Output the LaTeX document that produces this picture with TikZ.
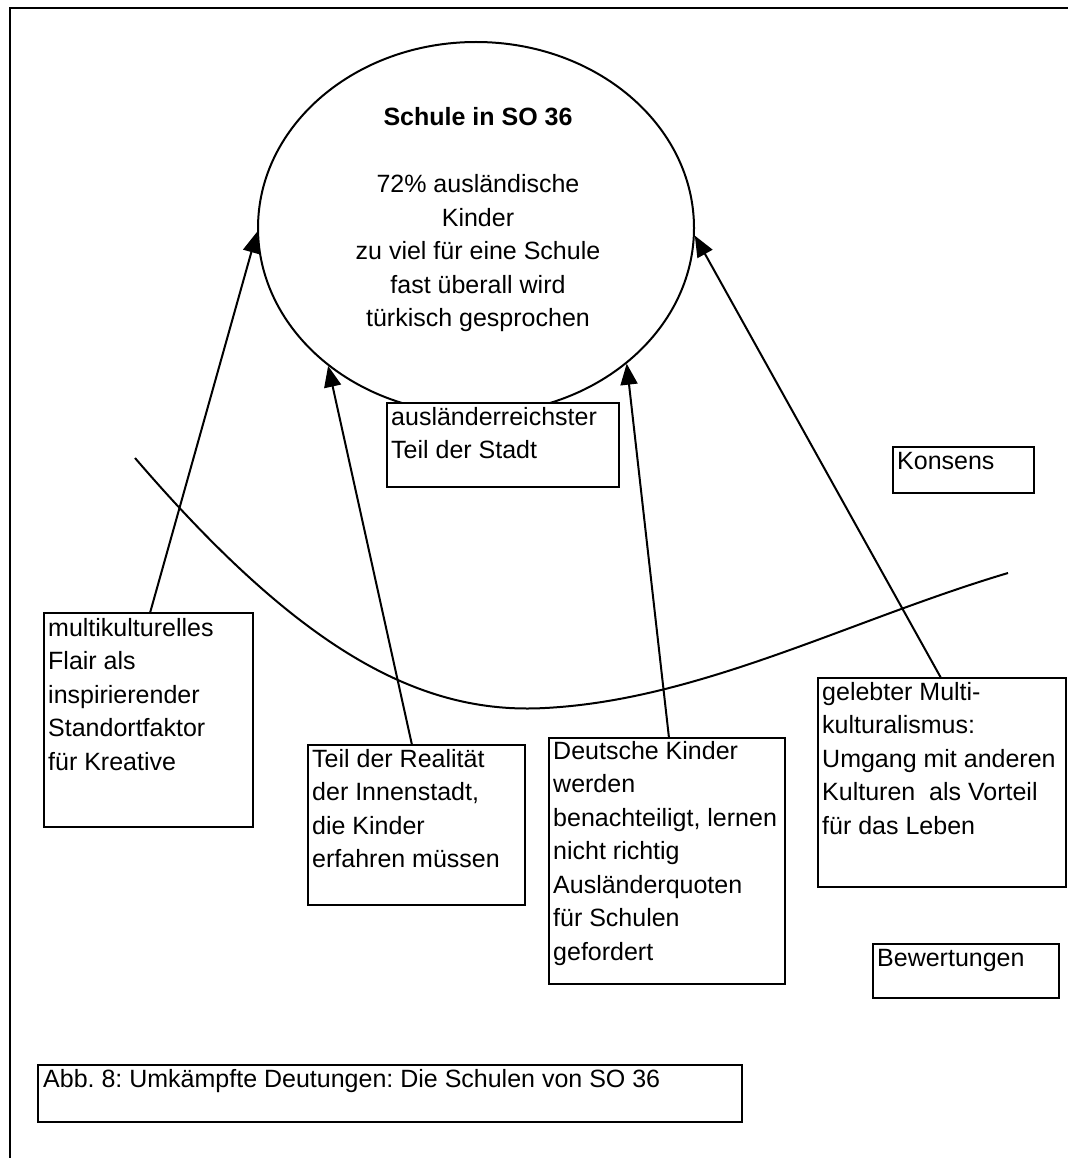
\documentclass[tikz,border=0pt]{standalone}
\usepackage{fontspec}
\setmainfont{Liberation Sans}
\usetikzlibrary{arrows.meta,shapes.geometric}

% left-aligned stack of lines whose baseline is the first line
\newcommand{\boxlines}[1]{\begin{tabular}[t]{@{}l@{}}#1\end{tabular}}

\begin{document}
\frenchspacing
\begin{tikzpicture}[x=1pt,y=-1pt,
  every node/.style={font=\fontsize{25}{33.5}\selectfont},
  frame/.style={line width=2pt},
  topic/.style={draw, ellipse, line width=2pt, inner sep=0pt},
  box/.style={draw, line width=2pt, fill=white, rectangle, inner sep=0pt, outer sep=0pt, anchor=north west},
  boxtext/.style={anchor=base west, inner sep=0pt},
  link/.style={line width=2pt, -{Triangle[length=21pt,width=17pt]}},
  divider/.style={line width=2pt},
]
\useasboundingbox (0,0) rectangle (1068,1158);

% page frame (left and top edge)
\draw[frame] (10,1158) -- (10,8) -- (1068,8);

% line between the two fields
\draw[divider] (135,458) .. controls (300,650) and (420,715) .. (545,708)
                         .. controls (700,700) and (850,620) .. (1008,573);

% central topic
\node[topic, minimum width=436pt, minimum height=372pt] (schule) at (476,228) {};
\node[anchor=base, inner sep=0pt] (schule-t) at (478,126)
  {\begin{tabular}[t]{@{}c@{}}\textbf{Schule in SO 36}\\ \\
   72\% ausländische\\Kinder\\zu viel für eine Schule\\fast überall wird\\türkisch gesprochen\end{tabular}};

% boxes
\node[box, minimum width=232pt, minimum height=84pt] (aus) at (387,403) {};
\node[boxtext] (aus-t) at ([shift={(4,22)}]aus.north west)
  {\boxlines{ausländerreichster\\Teil der Stadt}};

\node[box, minimum width=141pt, minimum height=46pt] (konsens) at (893,447) {};
\node[boxtext] (konsens-t) at ([shift={(4,22)}]konsens.north west) {Konsens};

\node[box, minimum width=209pt, minimum height=214pt] (multi) at (44,613) {};
\node[boxtext] (multi-t) at ([shift={(4,23)}]multi.north west)
  {\boxlines{multikulturelles\\Flair als\\inspirierender\\Standortfaktor\\für Kreative}};

\node[box, minimum width=217pt, minimum height=160pt] (real) at (308,745) {};
\node[boxtext] (real-t) at ([shift={(4,22)}]real.north west)
  {\boxlines{Teil der Realität\\der Innenstadt,\\die Kinder\\erfahren müssen}};

\node[box, minimum width=236pt, minimum height=246pt] (deutsch) at (549,738) {};
\node[boxtext] (deutsch-t) at ([shift={(4,21)}]deutsch.north west)
  {\boxlines{Deutsche Kinder\\werden\\benachteiligt, lernen\\nicht richtig\\Ausländerquoten\\für Schulen\\gefordert}};

\node[box, minimum width=248pt, minimum height=209pt] (gelebt) at (818,678) {};
\node[boxtext] (gelebt-t) at ([shift={(4,22)}]gelebt.north west)
  {\boxlines{gelebter Multi-\\kulturalismus:\\Umgang mit anderen\\Kulturen~ als Vorteil\\für das Leben}};

\node[box, minimum width=186pt, minimum height=54pt] (bewert) at (873,944) {};
\node[boxtext] (bewert-t) at ([shift={(4,22)}]bewert.north west) {Bewertungen};

\node[box, minimum width=704pt, minimum height=57pt] (caption) at (38,1065) {};
\node[boxtext] (caption-t) at ([shift={(5,22)}]caption.north west)
  {Abb. 8: Umkämpfte Deutungen: Die Schulen von SO 36};

% arrows from the readings to the topic
\draw[link] ([shift={(106,0)}]multi.north west) -- (schule.181.3);
\draw[link] ([shift={(104,0)}]real.north west) -- (schule.223);
\draw[link] ([shift={(120,0)}]deutsch.north west) -- (schule.318.3);
\draw[link] ([shift={(123,0)}]gelebt.north west) -- (schule.358.9);
\end{tikzpicture}
\end{document}
